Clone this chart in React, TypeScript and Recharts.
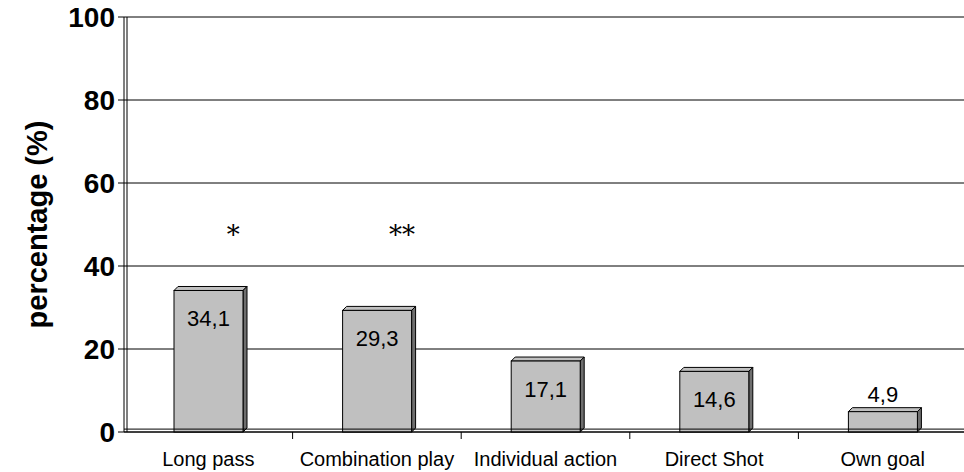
import { Bar, BarChart, CartesianGrid, LabelList, Line, ReferenceLine, XAxis, YAxis } from "recharts"

const categories = ["Long pass", "Combination play", "Individual action", "Direct Shot", "Own goal"]
const percentages = [34.1, 29.3, 17.1, 14.6, 4.9]
const markers = ["*", "**", "", "", ""]
const markerLevel = [50, 50, null, null, null]
const yTicks = [0, 20, 40, 60, 80, 100]

const data = categories.map((name, i) => ({
  name,
  value: percentages[i],
  marker: markers[i],
  markY: markerLevel[i],
}))

const W = 964
const H = 472
const DEPTH = 4
const AXIS_W = 124
const RIGHT = -3
const FONT = "Liberation Sans, Arial, sans-serif"

const Bar3D = (props: any) => {
  const { x, y, width, height } = props
  if (!height) return null
  return (
    <g stroke="#000" strokeWidth={1}>
      <polygon
        points={`${x},${y} ${x + DEPTH},${y - DEPTH} ${x + width + DEPTH},${y - DEPTH} ${x + width},${y}`}
        fill="#c0c0c0"
      />
      <polygon
        points={`${x + width},${y} ${x + width + DEPTH},${y - DEPTH} ${x + width + DEPTH},${y + height - DEPTH} ${x + width},${y + height}`}
        fill="#6e6e6e"
      />
      <rect x={x} y={y} width={width} height={height} fill="#c0c0c0" />
    </g>
  )
}

const ValueLabel = (props: any) => {
  const { x, y, width, value } = props
  const inside = value >= 10
  return (
    <text
      x={x + width / 2}
      y={inside ? y + 36 : y - 10}
      textAnchor="middle"
      fontSize={22}
      fill="#000"
      fontFamily={FONT}
    >
      {String(value).replace(".", ",")}
    </text>
  )
}

const MarkerLabel = (props: any) => {
  const { x, y, index } = props
  const text = markers[index]
  if (!text) return null
  return (
    <text x={x + 25} y={y + 19} textAnchor="middle" fontSize={26} fill="#000" fontFamily="DejaVu Serif, serif">
      {text}
    </text>
  )
}

const XTick = (props: any) => {
  const { x, y, payload, index } = props
  const band = (W - AXIS_W - RIGHT) / categories.length
  return (
    <g>
      {index > 0 && <line x1={x - band / 2} y1={y - 8} x2={x - band / 2} y2={y - 1} stroke="#000" />}
      <text x={x} y={y + 26} textAnchor="middle" fontSize={20} fill="#000" fontFamily={FONT}>
        {payload.value}
      </text>
    </g>
  )
}

const YLabel = (props: any) => {
  const { viewBox } = props
  const cx = viewBox.x + 37
  const cy = viewBox.y + viewBox.height / 2
  return (
    <text
      x={cx}
      y={cy}
      transform={`rotate(-90, ${cx}, ${cy})`}
      textAnchor="middle"
      dominantBaseline="central"
      fontSize={29}
      fontWeight="bold"
      fill="#000"
      fontFamily={FONT}
    >
      percentage (%)
    </text>
  )
}

export default function App() {
  return (
    <div style={{ position: "absolute", left: 0, top: 0, width: W, height: H, background: "#fff", overflow: "hidden" }}>
      <BarChart
        width={W}
        height={H}
        data={data}
        margin={{ top: 17, right: RIGHT, left: 0, bottom: 0 }}
        barSize={69}
      >
        <CartesianGrid
          stroke="#000"
          vertical={true}
          verticalCoordinatesGenerator={({ offset }: any) => [offset.left + 3]}
        />
        <XAxis
          dataKey="name"
          height={40}
          tickLine={false}
          axisLine={{ stroke: "#000", strokeWidth: 1 }}
          tick={<XTick />}
          interval={0}
        />
        <YAxis
          domain={[0, 100]}
          ticks={yTicks}
          width={AXIS_W}
          tickSize={6}
          tickMargin={3}
          axisLine={{ stroke: "#000" }}
          tickLine={{ stroke: "#000" }}
          tick={{ fontSize: 28, fontWeight: "bold", fill: "#000", fontFamily: FONT }}
          label={<YLabel />}
        />
        <ReferenceLine y={0.7} stroke="#000" strokeWidth={1} />
        <Bar dataKey="value" shape={<Bar3D />} isAnimationActive={false}>
          <LabelList dataKey="value" content={<ValueLabel />} />
        </Bar>
        <Line dataKey="markY" stroke="none" dot={false} activeDot={false} isAnimationActive={false}>
          <LabelList dataKey="marker" content={<MarkerLabel />} />
        </Line>
      </BarChart>
    </div>
  )
}
